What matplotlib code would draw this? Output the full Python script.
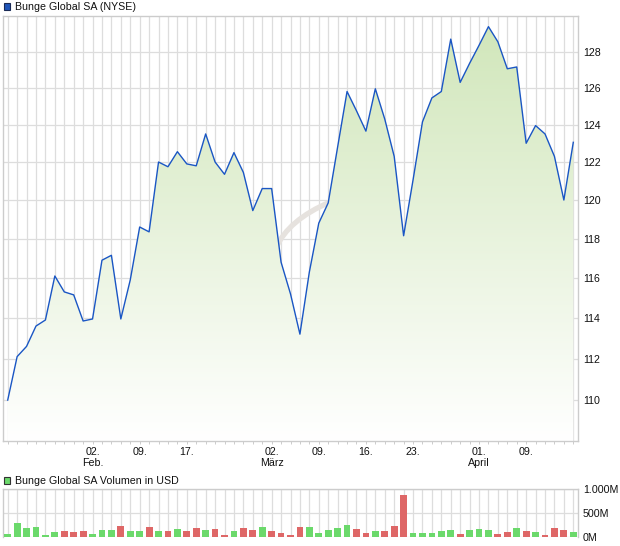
import numpy as np
import matplotlib.pyplot as plt
from matplotlib.patches import Rectangle, PathPatch
from matplotlib.path import Path
from matplotlib.ticker import FixedLocator, FixedFormatter, NullLocator

plt.rcParams['font.family'] = ['Liberation Sans', 'DejaVu Sans']

# Schlusskurse (USD), Handelstage 20.01. - 16.04.
close = [110.0, 112.1, 112.6, 113.6, 113.9, 116.1, 115.3, 115.15, 113.85, 113.95,
         116.9, 117.15, 113.95, 115.9, 118.6, 118.35, 122.0, 121.75, 122.55, 121.9,
         121.8, 123.5, 122.0, 121.35, 122.5, 121.45, 119.45, 120.6, 120.6, 116.8,
         115.2, 113.2, 116.3, 118.8, 119.85, 122.8, 125.8, 124.75, 123.65, 125.95,
         124.3, 122.3, 118.15, 121.05, 124.15, 125.45, 125.8, 128.7, 126.3, 127.35,
         128.35, 129.4, 128.55, 127.05, 127.15, 123.0, 123.95, 123.5, 122.3, 120.0, 123.05]

# Volumen in Mio. USD
volume = [63, 296, 183, 204, 35, 99, 120, 99, 120, 56,
          141, 141, 225, 120, 120, 204, 120, 120, 162, 120,
          183, 141, 162, 35, 120, 183, 141, 204, 120, 85,
          35, 204, 211, 77, 141, 183, 246, 162, 77, 120,
          120, 225, 880, 77, 77, 77, 120, 141, 56, 141,
          162, 141, 56, 99, 183, 120, 99, 35, 183, 141, 99]

tick_idx = [9, 14, 19, 28, 33, 38, 43, 50, 55]
tick_labels = ['02.\nFeb.', '09.', '17.', '02.\nMärz', '09.', '16.', '23.', '01.\nApril', '09.']

price_ticks = [110, 112, 114, 116, 118, 120, 122, 124, 126, 128]
vol_ticks = [0, 500, 1000]
vol_labels = ['0M', '500M', '1.000M']

W, H = 620, 546
FS = 7.7
GRID = '#dddddd'
SPINE = '#cccccc'
LINE = '#1a56c4'
GREEN = '#6bd96b'
RED = '#de6767'

fig = plt.figure(figsize=(W / 100, H / 100), dpi=100)


def px_axes(l, t, r, b):
    return fig.add_axes([l / W, 1 - b / H, (r - l) / W, (b - t) / H])


x = np.arange(len(close))
ymin, ymax = 108.06, 130.0

# ---- Kurs-Chart ----
ax = px_axes(3, 16, 578, 441)
ax.set_yscale('log')

grad_t = np.linspace(1, 0, 256)[:, None, None]
top = np.array([208, 230, 185]) / 255
img = np.ones(3) + (top - np.ones(3)) * grad_t
img = np.repeat(img, 2, axis=1)
im = ax.imshow(img, extent=(0, 1, 0, 1), transform=ax.transAxes,
               aspect='auto', zorder=2, interpolation='bilinear')
poly = ax.fill_between(x, close, ymin, facecolor='none', edgecolor='none')
im.set_clip_path(poly.get_paths()[0], transform=ax.transData)

ax.plot(x, close, color=LINE, lw=1.0, zorder=4)

# Wasserzeichen (Bogen) hinter der Flaeche
swoosh = Path([(276 / W, 1 - 248 / H), (288 / W, 1 - 220 / H), (330 / W, 1 - 202 / H)],
              [Path.MOVETO, Path.CURVE3, Path.CURVE3])
ax.add_patch(PathPatch(swoosh, transform=fig.transFigure, facecolor='none',
                       edgecolor='#e6e2de', lw=3.8, capstyle='round', zorder=1.5))

ax.set_xlim(-0.5, len(close) - 0.5)
ax.set_ylim(ymin, ymax)
ax.yaxis.tick_right()
ax.yaxis.set_major_locator(FixedLocator(price_ticks))
ax.yaxis.set_major_formatter(FixedFormatter([str(v) for v in price_ticks]))
ax.yaxis.set_minor_locator(NullLocator())
ax.set_xticks(x, minor=True)
ax.set_xticks(tick_idx)
ax.set_xticklabels(tick_labels)
ax.tick_params(axis='y', length=0, pad=3.4, labelsize=FS, colors='#111111')
ax.tick_params(axis='x', which='both', length=2.5, width=0.7, color=SPINE,
               pad=1.5, labelsize=FS, labelcolor='#111111')
ax.grid(which='both', axis='x', color=GRID, lw=0.9, zorder=0)
ax.grid(which='major', axis='y', color=GRID, lw=0.9, zorder=0)
ax.set_axisbelow(True)
for s in ax.spines.values():
    s.set_color(SPINE)
    s.set_linewidth(1.0)

# ---- Volumen-Chart ----
axv = px_axes(3, 489, 578, 537)
colors = [GREEN if i == 0 or close[i] > close[i - 1] else RED for i in range(len(close))]
axv.bar(x, volume, width=0.72, color=colors, zorder=3)
axv.set_xlim(-0.5, len(close) - 0.5)
axv.set_ylim(0, 1000)
axv.yaxis.tick_right()
axv.set_yticks(vol_ticks)
axv.set_yticklabels(vol_labels)
axv.set_xticks(x)
axv.tick_params(axis='x', length=0, labelbottom=False)
axv.tick_params(axis='y', length=0, pad=3.4, labelsize=FS, colors='#111111')
axv.grid(axis='both', color=GRID, lw=0.9, zorder=0)
axv.set_axisbelow(True)
for s in axv.spines.values():
    s.set_color(SPINE)
    s.set_linewidth(1.0)
axv.spines['bottom'].set_visible(False)

# ---- Legenden ----
fig.patches.append(Rectangle((3.5 / W, 1 - 9.5 / H), 6.5 / W, 6.5 / H, transform=fig.transFigure,
                             facecolor='#1f55b8', edgecolor='#1a2a55', lw=0.8))
fig.text(15 / W, 1 - 6.8 / H, 'Bunge Global SA (NYSE)', fontsize=FS, va='center', color='#111111')
fig.patches.append(Rectangle((3.5 / W, 1 - 483.5 / H), 6.5 / W, 6.5 / H, transform=fig.transFigure,
                             facecolor=GREEN, edgecolor='#333333', lw=0.8))
fig.text(15 / W, 1 - 480.5 / H, 'Bunge Global SA Volumen in USD', fontsize=FS, va='center', color='#111111')

fig.savefig('out.png', dpi=100)
